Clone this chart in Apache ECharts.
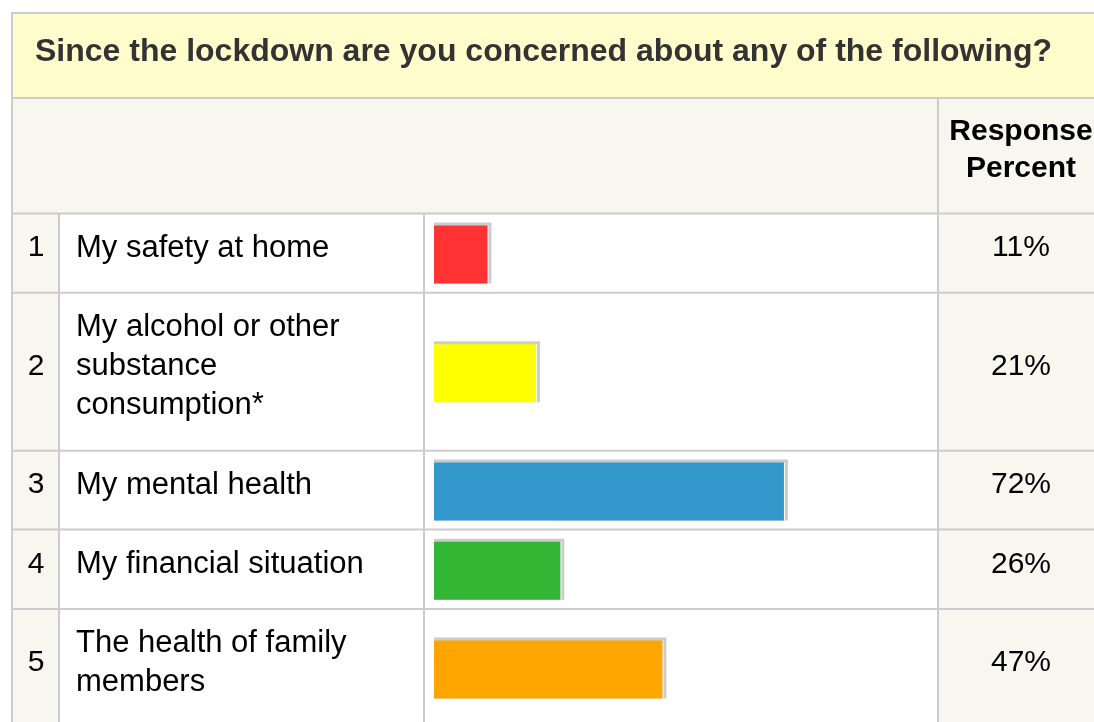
<!DOCTYPE html>
<html><head><meta charset="utf-8">
<script src="https://cdn.jsdelivr.net/npm/echarts@6/dist/echarts.min.js"></script>
<style>html,body{margin:0;padding:0;background:#fff}#c{width:1094px;height:722px}</style>
</head><body><div id="c"></div>
<script>
// ---- data ----
const titleText = 'Since the lockdown are you concerned about any of the following?';
const headerText = 'Response\nPercent';
const rowNumbers = ['1', '2', '3', '4', '5'];
const categories = [
  'My safety at home',
  'My alcohol or other\nsubstance\nconsumption*',
  'My mental health',
  'My financial situation',
  'The health of family\nmembers'
];
const percentValues = [11, 21, 72, 26, 47];
const barColors = ['#ff3333', '#ffff00', '#3399cc', '#33b633', '#ffa500'];

// ---- layout / style ----
const FONT = '"Liberation Sans", Arial, sans-serif';
const L = {
  outerLeft: 12, outerTop: 13, right: 1094, bottom: 722,
  colNum: 59, colLabel: 424, colBar: 938,
  titleBottom: 98, headerBottom: 213.5,
  rowEdges: [213.5, 292.7, 450.7, 529.5, 609, 727],
  barLeft: 434, barSpan: 486, barThickness: 58, shadow: 3,
  barShift: 1.5, labelShift: -5,
  labelX: 76, numX: 36, pctX: 1021
};
const BORDER = '#cccccc';
const HEAD_BG = '#f7f7ef';
const TITLE_BG = '#fffdcc';

const graphics = [];
function rect(x, y, w, h, fill) {
  graphics.push({ type: 'rect', z: -10, silent: true, shape: { x, y, width: w, height: h }, style: { fill } });
}
function line(x1, y1, x2, y2) {
  graphics.push({ type: 'line', z: -5, silent: true, shape: { x1, y1, x2, y2 }, style: { stroke: BORDER, lineWidth: 2 } });
}
rect(L.outerLeft, L.outerTop, L.right - L.outerLeft, L.titleBottom - L.outerTop, TITLE_BG);
rect(L.outerLeft, L.titleBottom, L.right - L.outerLeft, L.headerBottom - L.titleBottom, HEAD_BG);
rect(L.outerLeft, L.headerBottom, L.colNum - L.outerLeft, L.bottom - L.headerBottom, HEAD_BG);
rect(L.colBar, L.headerBottom, L.right - L.colBar, L.bottom - L.headerBottom, HEAD_BG);
line(L.outerLeft - 1, L.outerTop, L.right, L.outerTop);
line(L.outerLeft, L.outerTop, L.outerLeft, L.bottom);
line(L.outerLeft, L.titleBottom, L.right, L.titleBottom);
line(L.colBar, L.titleBottom, L.colBar, L.bottom);
L.rowEdges.slice(0, -1).forEach(y => line(L.outerLeft, y, L.right, y));
line(L.colNum, L.headerBottom, L.colNum, L.bottom);
line(L.colLabel, L.headerBottom, L.colLabel, L.bottom);
graphics.push({
  type: 'text', silent: true, x: L.pctX, y: (L.titleBottom + L.headerBottom) / 2 - 6,
  style: { text: headerText, align: 'center', verticalAlign: 'middle', font: 'bold 30px ' + FONT, lineHeight: 37, fill: '#000' }
});

function renderBar(params, api) {
  const v = api.value(0);
  const p0 = api.coord([0, 0]);
  const p1 = api.coord([v, 0]);
  const w = p1[0] - p0[0];
  const h = L.barThickness, s = L.shadow;
  const top = p0[1] - h / 2;
  return {
    type: 'group',
    children: [
      { type: 'rect', shape: { x: p0[0], y: top - s, width: w + s + 1, height: h + s }, style: { fill: BORDER } },
      { type: 'rect', shape: { x: p0[0] + w, y: top, width: 1, height: h }, style: { fill: '#ffffff' } },
      { type: 'rect', shape: { x: p0[0], y: top, width: w, height: h }, style: { fill: api.visual('color') } }
    ]
  };
}

const grids = [], xAxes = [], yAxes = [], series = [];
const labelBase = { fontFamily: FONT, fontSize: 31, color: '#000', lineHeight: 39 };
const yBase = { type: 'category', axisLine: { show: false }, axisTick: { show: false }, splitLine: { show: false } };
categories.forEach((cat, i) => {
  const top = L.rowEdges[i], h = L.rowEdges[i + 1] - top;
  const gBar = 2 * i, gLab = 2 * i + 1;
  // bar grid
  grids.push({ left: L.barLeft, top: top + L.barShift, width: L.barSpan, height: h, outerBoundsMode: 'none' });
  // text grid (same row, text sits a little above the row centre)
  grids.push({ left: L.barLeft, top: top + L.labelShift, width: L.barSpan, height: h, outerBoundsMode: 'none' });
  xAxes.push({ gridIndex: gBar, type: 'value', min: 0, max: 100, show: false });
  xAxes.push({ gridIndex: gLab, type: 'value', min: 0, max: 100, show: false });
  const barY = yAxes.length;
  yAxes.push(Object.assign({}, yBase, { gridIndex: gBar, show: false, data: [cat] }));
  yAxes.push(Object.assign({}, yBase, { gridIndex: gLab, position: 'left', data: [cat],
    axisLabel: Object.assign({}, labelBase, { align: 'left', margin: L.barLeft - L.labelX }) }));
  yAxes.push(Object.assign({}, yBase, { gridIndex: gLab, position: 'left', data: [rowNumbers[i]],
    axisLabel: Object.assign({}, labelBase, { fontSize: 30, align: 'center', margin: L.barLeft - L.numX }) }));
  yAxes.push(Object.assign({}, yBase, { gridIndex: gLab, position: 'right', data: [percentValues[i] + '%'],
    axisLabel: Object.assign({}, labelBase, { fontSize: 30, align: 'center', margin: L.pctX - (L.barLeft + L.barSpan) }) }));
  series.push({
    type: 'custom', xAxisIndex: 2 * i, yAxisIndex: barY, data: [[percentValues[i], 0]],
    encode: { x: 0, y: 1 }, renderItem: renderBar, silent: true, animation: false,
    itemStyle: { color: barColors[i] }
  });
});

const chart = echarts.init(document.getElementById('c'), null, { renderer: 'canvas' });
chart.setOption({
  animation: false,
  backgroundColor: '#ffffff',
  title: { text: titleText, left: 35, top: 36, padding: 0,
    textStyle: { fontFamily: FONT, fontSize: 32, fontWeight: 'bold', color: '#333333' } },
  graphic: graphics,
  grid: grids, xAxis: xAxes, yAxis: yAxes, series: series
});
</script></body></html>
